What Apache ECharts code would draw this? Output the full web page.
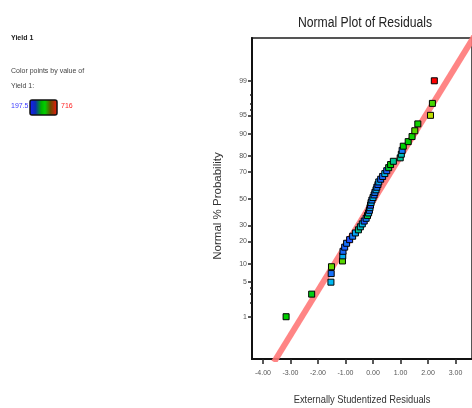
<!DOCTYPE html>
<html>
<head>
<meta charset="utf-8">
<script src="https://cdn.jsdelivr.net/npm/echarts@6/dist/echarts.min.js"></script>
<style>
  html, body { margin: 0; padding: 0; background: #fff; }
  #chart { width: 472px; height: 408px; }
</style>
</head>
<body>
<div id="chart"></div>
<script>
// Externally studentized residuals, sorted ascending
const residuals = [
  -3.16, -2.23, -1.53, -1.52, -1.51, -1.11, -1.10, -1.09, -1.03, -0.96,
  -0.85, -0.74, -0.64, -0.53, -0.46, -0.39, -0.32, -0.25, -0.20, -0.16,
  -0.13, -0.11, -0.09, -0.07, -0.04, 0.00, 0.04, 0.07, 0.11, 0.14,
  0.18, 0.21, 0.28, 0.35, 0.43, 0.50, 0.57, 0.64, 0.74, 0.99,
  1.03, 1.06, 1.10, 1.28, 1.42, 1.52, 1.63, 2.09, 2.16, 2.23
];
// Normal % probability of each ranked residual
const probability = [
  1, 3, 5, 7, 9, 11, 13, 15, 17, 19,
  21, 23, 25, 27, 29, 31, 33, 35, 37, 39,
  41, 43, 45, 47, 49, 51, 53, 55, 57, 59,
  61, 63, 65, 67, 69, 71, 73, 75, 77, 79,
  81, 83, 85, 87, 89, 91, 93, 95, 97, 99
];
// Yield 1 value of each run (drives the point colour)
const yieldValues = [
  457, 446, 327, 239, 519, 509, 312, 229, 223, 239,
  197.5, 249, 301, 379, 353, 327, 208, 260, 415, 327,
  239, 301, 208, 312, 249, 327, 229, 249, 312, 249,
  213, 301, 223, 229, 327, 218, 431, 457, 379, 379,
  353, 249, 457, 457, 467, 509, 467, 571, 498, 716
];
const yieldMin = 197.5, yieldMax = 716;

// Probability tick labels and minor ticks
const probTicks = [1, 5, 10, 20, 30, 50, 70, 80, 90, 95, 99];
const probMinorTicks = [2, 3, 4, 96, 97, 98];
const residTicks = [-4, -3, -2, -1, 0, 1, 2, 3];

// Reference line endpoints (residual, normal score)
const fitResid = [-3.60, 3.70];
const fitZ = [-3.22, 3.22];

// Inverse standard normal CDF (Acklam)
function normInv(p) {
  const a = [-3.969683028665376e+01, 2.209460984245205e+02, -2.759285104469687e+02, 1.383577518672690e+02, -3.066479806614716e+01, 2.506628277459239e+00];
  const b = [-5.447609879822406e+01, 1.615858368580409e+02, -1.556989798598866e+02, 6.680131188771720e+01, -1.328068155288572e+01];
  const c = [-7.784894002430293e-03, -3.223964580411365e-01, -2.400758277161838e+00, -2.549732539343734e+00, 4.374664141464968e+00, 2.938163982698783e+00];
  const d = [7.784695709041462e-03, 3.224671290700398e-01, 2.445134137142996e+00, 3.754408661907416e+00];
  const pl = 0.02425, ph = 1 - pl;
  if (p < pl) {
    const q = Math.sqrt(-2 * Math.log(p));
    return (((((c[0]*q+c[1])*q+c[2])*q+c[3])*q+c[4])*q+c[5]) / ((((d[0]*q+d[1])*q+d[2])*q+d[3])*q+1);
  }
  if (p <= ph) {
    const q = p - 0.5, r = q * q;
    return (((((a[0]*r+a[1])*r+a[2])*r+a[3])*r+a[4])*r+a[5])*q / (((((b[0]*r+b[1])*r+b[2])*r+b[3])*r+b[4])*r+1);
  }
  const q = Math.sqrt(-2 * Math.log(1 - p));
  return -(((((c[0]*q+c[1])*q+c[2])*q+c[3])*q+c[4])*q+c[5]) / ((((d[0]*q+d[1])*q+d[2])*q+d[3])*q+1);
}
const pctToZ = p => normInv(p / 100);

const points = residuals.map((r, i) => [r, pctToZ(probability[i]), yieldValues[i]]);
const majorZ = probTicks.map(pctToZ);
const minorZ = probMinorTicks.map(pctToZ);

function probLabel(z) {
  let best = 0, bd = Infinity;
  majorZ.forEach((v, i) => { const dd = Math.abs(v - z); if (dd < bd) { bd = dd; best = i; } });
  return String(probTicks[best]);
}

const FONT = '"Liberation Sans", Arial, sans-serif';
const GRID = { left: 252, top: 38, width: 226, height: 321 };

const chart = echarts.init(document.getElementById('chart'), null, { renderer: 'canvas' });

chart.setOption({
  animation: false,
  backgroundColor: '#ffffff',
  grid: {
    left: GRID.left, top: GRID.top, width: GRID.width, height: GRID.height,
    show: true, borderColor: '#555', borderWidth: 2, backgroundColor: 'transparent'
  },
  xAxis: {
    type: 'value', min: -4.4, max: 3.6,
    axisLine: { show: true, onZero: false, lineStyle: { color: '#111', width: 2 } },
    axisTick: { show: true, length: 5, customValues: residTicks, lineStyle: { color: '#222', width: 1.5 } },
    axisLabel: {
      customValues: residTicks, margin: 11,
      fontFamily: FONT, fontSize: 7, color: '#555',
      formatter: v => v.toFixed(2)
    },
    splitLine: { show: false }
  },
  yAxis: [{
    type: 'value', min: -3.16, max: 3.17,
    axisLine: { show: true, onZero: false, lineStyle: { color: '#111', width: 2 } },
    axisTick: { show: true, length: 4, customValues: majorZ, lineStyle: { color: '#222', width: 1.5 } },
    axisLabel: {
      customValues: majorZ, margin: 5,
      fontFamily: FONT, fontSize: 7, color: '#555',
      formatter: probLabel
    },
    splitLine: { show: false }
  }, {
    type: 'value', min: -3.16, max: 3.17, position: 'left',
    axisLine: { show: false, onZero: false },
    axisTick: { show: true, length: 2, customValues: minorZ, lineStyle: { color: '#222', width: 1.5 } },
    axisLabel: { show: false },
    splitLine: { show: false }
  }],
  visualMap: {
    show: false, type: 'continuous', dimension: 2, seriesIndex: 1,
    min: yieldMin, max: yieldMax,
    inRange: { color: ['#2050ff', '#00b8f0', '#00d000', '#d8e000', '#ff0000'] }
  },
  series: [{
    type: 'line',
    data: fitResid.map((r, i) => [r, fitZ[i]]),
    showSymbol: false, silent: true, clip: true, z: 2,
    lineStyle: { color: '#ff7878', width: 6, opacity: 0.9 }
  }, {
    type: 'scatter',
    data: points,
    symbol: 'rect', symbolSize: 6, z: 3,
    itemStyle: { borderColor: '#000', borderWidth: 1, opacity: 1 }
  }],
  graphic: [
    // chart title and axis titles (condensed lettering)
    { type: 'text', x: 365, y: 23, scaleX: 0.87, style: { text: 'Normal Plot of Residuals', font: '14px ' + FONT, fill: '#222', align: 'center', verticalAlign: 'middle' } },
    { type: 'text', x: 362, y: 400, scaleX: 0.85, style: { text: 'Externally Studentized Residuals', font: '11px ' + FONT, fill: '#333', align: 'center', verticalAlign: 'middle' } },
    { type: 'text', x: 218, y: 206, rotation: Math.PI / 2, style: { text: 'Normal % Probability', font: '11.5px ' + FONT, fill: '#333', align: 'center', verticalAlign: 'middle' } },
    // colour key
    { type: 'text', x: 11, y: 35, style: { text: 'Yield 1', font: 'bold 7px ' + FONT, fill: '#222' } },
    { type: 'text', x: 11, y: 68, style: { text: 'Color points by value of', font: '7px ' + FONT, fill: '#444' } },
    { type: 'text', x: 11, y: 83, style: { text: 'Yield 1:', font: '7px ' + FONT, fill: '#444' } },
    { type: 'text', x: 11, y: 103, style: { text: String(yieldMin), font: '7px ' + FONT, fill: '#3a3aff' } },
    { type: 'text', x: 61, y: 103, style: { text: String(yieldMax), font: '7px ' + FONT, fill: '#ff2020' } },
    {
      type: 'rect', shape: { x: 30, y: 100, width: 27, height: 15, r: 2 },
      style: {
        stroke: '#111', lineWidth: 1.5,
        fill: new echarts.graphic.LinearGradient(0, 0, 1, 0, [
          { offset: 0, color: '#1a1aff' },
          { offset: 0.22, color: '#0a30b0' },
          { offset: 0.42, color: '#00b000' },
          { offset: 0.55, color: '#00d000' },
          { offset: 0.75, color: '#6a4a00' },
          { offset: 1, color: '#ff1010' }
        ])
      }
    }
  ]
});
</script>
</body>
</html>
